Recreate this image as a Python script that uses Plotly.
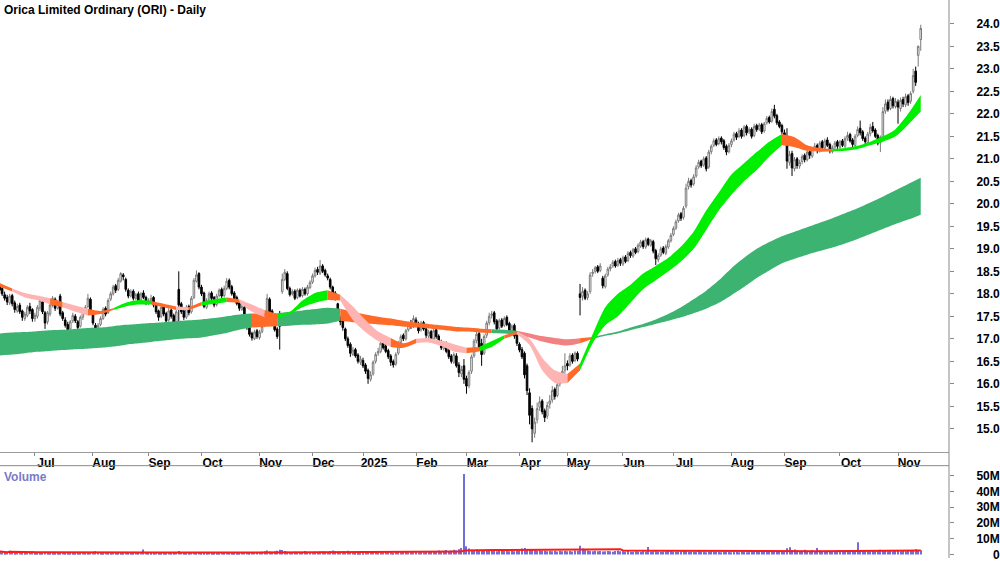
import plotly.graph_objects as go
import pandas as pd

TITLE = "Orica Limited Ordinary (ORI) - Daily"

# ---- x axis: trading-day index, month starts ----
month_tick_idx = [14, 37, 59, 80, 103, 124, 144, 165, 185, 206, 225, 247, 267, 290, 311, 333, 356]
month_tick_text = ["Jul", "Aug", "Sep", "Oct", "Nov", "Dec", "2025", "Feb", "Mar", "Apr", "May",
                   "Jun", "Jul", "Aug", "Sep", "Oct", "Nov"]

price_tick_vals = [15.0, 15.5, 16.0, 16.5, 17.0, 17.5, 18.0, 18.5, 19.0, 19.5, 20.0, 20.5,
                   21.0, 21.5, 22.0, 22.5, 23.0, 23.5, 24.0]
vol_tick_vals = [0, 10e6, 20e6, 30e6, 40e6, 50e6]
vol_tick_text = ["\u00a0\u00a0\u00a0\u00a0\u00a00", "10M", "20M", "30M", "40M", "50M"]

# ---- daily OHLC in cents (Jun-2024 .. Nov-2025) ----
open_cents = [
    1820, 1812, 1798, 1792, 1780, 1796, 1780, 1762, 1775, 1762, 1745, 1752, 1772, 1765,
    1745, 1750, 1768, 1782, 1758, 1738, 1755, 1774, 1788, 1768, 1795, 1758, 1742, 1732, 1722, 1740, 1750, 1738, 1728, 1748, 1760, 1772, 1788,
    1758, 1730, 1712, 1732, 1745, 1768, 1758, 1788, 1800, 1818, 1810, 1828, 1842, 1832, 1808, 1795, 1806, 1790, 1800, 1785, 1802, 1792,
    1780, 1784, 1792, 1776, 1762, 1750, 1772, 1756, 1742, 1764, 1752, 1738, 1810, 1778, 1762, 1748, 1772, 1760, 1792, 1828, 1845,
    1815, 1802, 1770, 1786, 1802, 1792, 1776, 1796, 1810, 1796, 1812, 1830, 1816, 1802, 1792, 1780, 1765, 1770, 1748, 1730, 1712, 1700, 1718,
    1703, 1716, 1730, 1750, 1788, 1762, 1740, 1722, 1740, 1805, 1832, 1845, 1812, 1800, 1806, 1792, 1808, 1796, 1810, 1800, 1814,
    1826, 1840, 1854, 1846, 1862, 1852, 1840, 1832, 1815, 1802, 1778, 1745, 1740, 1722, 1700, 1688, 1665, 1676, 1664, 1648,
    1652, 1642, 1630, 1610, 1622, 1650, 1668, 1672, 1692, 1684, 1674, 1662, 1650, 1644, 1668, 1692, 1708, 1700, 1720, 1735, 1728,
    1742, 1732, 1720, 1736, 1722, 1706, 1716, 1700, 1720, 1706, 1694, 1678, 1690, 1674, 1662, 1648, 1662, 1642, 1622, 1640,
    1612, 1596, 1628, 1662, 1696, 1712, 1690, 1668, 1708, 1736, 1752, 1758, 1740, 1724, 1742, 1730, 1748, 1734, 1716, 1730, 1708,
    1688, 1676, 1668, 1640, 1580, 1545, 1490, 1520, 1548, 1562, 1540, 1528, 1555, 1564, 1588, 1574, 1600, 1614, 1630,
    1645, 1642, 1664, 1652, 1668, 1800, 1795, 1808, 1792, 1805, 1845, 1850, 1860, 1852, 1835, 1816, 1842, 1856, 1862, 1872, 1864, 1876,
    1866, 1882, 1874, 1892, 1884, 1900, 1894, 1906, 1916, 1904, 1922, 1908, 1916, 1896, 1876, 1886, 1902, 1890, 1904, 1918,
    1932, 1946, 1962, 1978, 1970, 1995, 2038, 2052, 2044, 2062, 2082, 2095, 2086, 2102, 2082, 2116, 2130, 2142, 2134, 2146, 2140, 2128, 2116,
    2132, 2142, 2156, 2150, 2164, 2152, 2172, 2160, 2166, 2152, 2174, 2166, 2176, 2162, 2180, 2192, 2184, 2210, 2196, 2182, 2174,
    2158, 2148, 2092, 2112, 2078, 2100, 2084, 2094, 2108, 2098, 2116, 2106, 2124, 2130, 2118, 2138, 2124, 2142, 2132, 2116, 2126, 2138,
    2126, 2140, 2128, 2146, 2154, 2142, 2130, 2152, 2168, 2160, 2146, 2136, 2156, 2172, 2164, 2152, 2136, 2148, 2206, 2226, 2212, 2234, 2216,
    2226, 2212, 2232, 2220, 2240, 2228, 2250, 2295, 2330, 2365,
]
high_cents = [
    1825, 1818, 1805, 1798, 1800, 1800, 1785, 1778, 1780, 1765, 1760, 1775, 1780, 1768,
    1758, 1775, 1790, 1788, 1762, 1762, 1780, 1795, 1792, 1785, 1800, 1762, 1748, 1738, 1742, 1758, 1755, 1742, 1752, 1766, 1775, 1800, 1792,
    1760, 1735, 1735, 1750, 1770, 1772, 1790, 1805, 1820, 1822, 1835, 1848, 1846, 1836, 1812, 1810, 1810, 1802, 1805, 1804, 1808, 1796,
    1790, 1798, 1795, 1780, 1765, 1775, 1776, 1760, 1768, 1768, 1756, 1765, 1850, 1782, 1766, 1775, 1776, 1795, 1835, 1852, 1848,
    1820, 1805, 1790, 1805, 1806, 1795, 1800, 1812, 1814, 1818, 1835, 1834, 1820, 1806, 1796, 1784, 1778, 1775, 1752, 1735, 1716, 1720, 1722,
    1720, 1732, 1750, 1800, 1792, 1766, 1744, 1726, 1762, 1845, 1855, 1850, 1816, 1810, 1810, 1812, 1812, 1815, 1814, 1820, 1830,
    1845, 1858, 1860, 1875, 1866, 1856, 1845, 1836, 1818, 1806, 1780, 1750, 1745, 1725, 1705, 1692, 1682, 1680, 1668, 1662,
    1658, 1646, 1634, 1628, 1652, 1670, 1680, 1695, 1696, 1688, 1678, 1666, 1654, 1670, 1695, 1710, 1712, 1722, 1738, 1742, 1752,
    1748, 1738, 1740, 1740, 1726, 1720, 1720, 1728, 1724, 1710, 1698, 1694, 1694, 1678, 1666, 1670, 1668, 1648, 1640, 1655,
    1618, 1630, 1665, 1700, 1722, 1716, 1700, 1710, 1740, 1758, 1762, 1762, 1744, 1745, 1746, 1750, 1752, 1738, 1732, 1734, 1712,
    1692, 1682, 1672, 1645, 1590, 1552, 1525, 1558, 1572, 1566, 1545, 1560, 1575, 1595, 1592, 1605, 1622, 1640, 1668,
    1652, 1668, 1668, 1672, 1672, 1822, 1815, 1812, 1806, 1848, 1855, 1862, 1864, 1868, 1840, 1845, 1860, 1866, 1875, 1876, 1880, 1880,
    1885, 1886, 1895, 1896, 1902, 1904, 1912, 1920, 1920, 1925, 1925, 1922, 1920, 1900, 1890, 1905, 1906, 1910, 1922, 1935,
    1950, 1965, 1980, 1982, 1995, 2045, 2058, 2056, 2066, 2086, 2098, 2098, 2105, 2106, 2120, 2132, 2145, 2146, 2150, 2150, 2144, 2132, 2135,
    2145, 2160, 2160, 2168, 2168, 2175, 2176, 2170, 2170, 2178, 2178, 2180, 2180, 2182, 2195, 2196, 2212, 2220, 2200, 2186, 2178,
    2165, 2168, 2118, 2118, 2104, 2104, 2098, 2110, 2112, 2120, 2120, 2126, 2135, 2134, 2140, 2142, 2145, 2148, 2136, 2130, 2140, 2142,
    2142, 2144, 2150, 2160, 2158, 2146, 2155, 2172, 2185, 2164, 2150, 2160, 2178, 2182, 2168, 2156, 2152, 2215, 2232, 2232, 2240, 2238, 2235,
    2232, 2236, 2238, 2245, 2244, 2250, 2300, 2305, 2352, 2398,
]
low_cents = [
    1800, 1795, 1785, 1775, 1775, 1772, 1758, 1758, 1755, 1740, 1740, 1748, 1755, 1738,
    1738, 1745, 1762, 1755, 1722, 1732, 1750, 1770, 1762, 1765, 1750, 1740, 1725, 1712, 1718, 1735, 1735, 1720, 1725, 1742, 1755, 1768, 1755,
    1730, 1705, 1708, 1728, 1742, 1750, 1755, 1784, 1796, 1802, 1806, 1825, 1830, 1805, 1790, 1792, 1785, 1786, 1780, 1782, 1788, 1775,
    1775, 1780, 1770, 1755, 1740, 1746, 1750, 1732, 1738, 1745, 1728, 1735, 1730, 1755, 1742, 1744, 1752, 1756, 1788, 1825, 1810,
    1795, 1768, 1766, 1782, 1786, 1770, 1772, 1792, 1790, 1792, 1808, 1810, 1796, 1786, 1774, 1762, 1762, 1740, 1720, 1705, 1696, 1697, 1700,
    1698, 1712, 1726, 1746, 1755, 1734, 1716, 1700, 1676, 1800, 1828, 1808, 1794, 1796, 1786, 1788, 1792, 1792, 1796, 1796, 1810,
    1822, 1836, 1842, 1842, 1846, 1838, 1830, 1810, 1796, 1785, 1740, 1730, 1718, 1695, 1680, 1660, 1662, 1658, 1645, 1642,
    1635, 1622, 1600, 1605, 1618, 1645, 1662, 1668, 1676, 1668, 1655, 1640, 1636, 1640, 1664, 1688, 1695, 1696, 1716, 1722, 1724,
    1726, 1712, 1716, 1718, 1702, 1700, 1695, 1696, 1700, 1688, 1675, 1674, 1668, 1655, 1645, 1644, 1636, 1615, 1615, 1600,
    1578, 1590, 1622, 1658, 1690, 1675, 1640, 1664, 1702, 1730, 1745, 1732, 1716, 1720, 1724, 1726, 1728, 1712, 1712, 1700, 1684,
    1670, 1655, 1612, 1575, 1510, 1470, 1480, 1512, 1540, 1532, 1515, 1522, 1545, 1558, 1565, 1570, 1594, 1608, 1622,
    1630, 1638, 1645, 1648, 1650, 1752, 1785, 1786, 1786, 1800, 1838, 1845, 1846, 1848, 1812, 1812, 1838, 1850, 1858, 1858, 1860, 1862,
    1862, 1868, 1870, 1880, 1880, 1888, 1890, 1902, 1900, 1900, 1906, 1905, 1890, 1864, 1870, 1882, 1888, 1886, 1900, 1914,
    1928, 1942, 1958, 1962, 1965, 1990, 2032, 2036, 2040, 2058, 2078, 2080, 2082, 2072, 2078, 2110, 2126, 2128, 2130, 2132, 2120, 2108, 2112,
    2126, 2138, 2142, 2146, 2145, 2148, 2152, 2155, 2145, 2148, 2160, 2162, 2155, 2158, 2176, 2178, 2180, 2190, 2175, 2168, 2155,
    2138, 2078, 2085, 2062, 2072, 2078, 2078, 2088, 2092, 2094, 2100, 2102, 2118, 2112, 2114, 2120, 2120, 2126, 2112, 2112, 2122, 2122,
    2120, 2126, 2124, 2140, 2136, 2126, 2126, 2148, 2152, 2140, 2132, 2132, 2150, 2158, 2146, 2130, 2115, 2140, 2200, 2205, 2208, 2212, 2212,
    2178, 2205, 2215, 2215, 2218, 2222, 2245, 2262, 2305, 2340,
]
close_cents = [
    1808, 1800, 1790, 1782, 1795, 1778, 1765, 1772, 1760, 1748, 1755, 1770, 1762, 1745,
    1752, 1770, 1785, 1760, 1735, 1758, 1775, 1790, 1768, 1780, 1755, 1745, 1730, 1720, 1738, 1752, 1740, 1725, 1748, 1762, 1770, 1790, 1760,
    1735, 1712, 1730, 1745, 1765, 1755, 1785, 1800, 1815, 1808, 1830, 1845, 1838, 1810, 1795, 1805, 1790, 1798, 1785, 1800, 1792, 1780,
    1785, 1790, 1775, 1760, 1748, 1770, 1755, 1740, 1762, 1750, 1735, 1760, 1775, 1760, 1748, 1770, 1758, 1790, 1830, 1842, 1815,
    1800, 1772, 1785, 1800, 1790, 1775, 1795, 1808, 1795, 1812, 1828, 1815, 1800, 1790, 1778, 1768, 1772, 1745, 1725, 1710, 1702, 1715, 1705,
    1715, 1728, 1745, 1790, 1760, 1738, 1720, 1705, 1728, 1832, 1848, 1812, 1798, 1805, 1790, 1808, 1795, 1810, 1800, 1815, 1825,
    1840, 1852, 1848, 1862, 1850, 1842, 1835, 1815, 1800, 1790, 1745, 1738, 1725, 1700, 1685, 1668, 1675, 1662, 1650, 1655,
    1640, 1628, 1612, 1620, 1648, 1665, 1672, 1690, 1680, 1672, 1660, 1648, 1642, 1665, 1690, 1705, 1700, 1718, 1732, 1728, 1745,
    1730, 1718, 1735, 1722, 1708, 1715, 1700, 1718, 1705, 1692, 1680, 1688, 1672, 1660, 1650, 1665, 1640, 1625, 1632, 1610,
    1595, 1625, 1660, 1695, 1710, 1680, 1665, 1705, 1735, 1750, 1755, 1738, 1722, 1740, 1728, 1745, 1732, 1718, 1728, 1706, 1690,
    1675, 1660, 1620, 1585, 1530, 1500, 1515, 1545, 1560, 1538, 1525, 1552, 1562, 1585, 1572, 1598, 1612, 1628, 1640,
    1640, 1662, 1650, 1668, 1655, 1792, 1805, 1790, 1800, 1842, 1848, 1858, 1850, 1862, 1818, 1840, 1855, 1860, 1870, 1862, 1874, 1868,
    1880, 1872, 1890, 1885, 1898, 1892, 1908, 1915, 1905, 1920, 1910, 1918, 1895, 1878, 1885, 1900, 1892, 1905, 1918, 1930,
    1945, 1960, 1975, 1968, 1990, 2035, 2050, 2042, 2060, 2080, 2092, 2085, 2100, 2078, 2115, 2128, 2140, 2132, 2145, 2138, 2125, 2115, 2130,
    2140, 2155, 2148, 2162, 2150, 2170, 2158, 2165, 2150, 2172, 2165, 2175, 2160, 2178, 2190, 2182, 2205, 2195, 2180, 2172, 2160,
    2145, 2095, 2110, 2080, 2098, 2085, 2092, 2105, 2098, 2115, 2108, 2122, 2128, 2118, 2135, 2125, 2140, 2130, 2118, 2125, 2135, 2128,
    2138, 2130, 2145, 2152, 2140, 2132, 2150, 2165, 2158, 2145, 2138, 2155, 2170, 2162, 2150, 2135, 2148, 2205, 2222, 2210, 2232, 2218, 2228,
    2215, 2230, 2222, 2238, 2225, 2245, 2285, 2270, 2350, 2390,
]

# ---- daily volume, millions of shares ----
volume_m = [
    1.9, 1.4, 1.2, 1.5, 2.4, 1.3, 1.1, 1.4, 1.6, 1.2, 1.1, 1.5, 1.3, 2.0,
    1.0, 1.2, 0.9, 1.1, 1.3, 1.0, 0.8, 1.1, 1.2, 0.9, 1.0, 1.3, 1.1, 0.9, 1.0, 1.2, 1.1, 0.8, 1.0, 1.3, 1.2, 1.0, 1.4,
    1.3, 2.1, 1.6, 1.2, 1.1, 1.3, 1.0, 1.2, 1.4, 1.1, 0.9, 1.0, 1.2, 1.3, 1.1, 1.0, 1.2, 1.4, 1.1, 1.3, 3.2, 1.5,
    1.2, 1.0, 1.1, 1.3, 0.9, 1.0, 1.2, 1.1, 1.4, 1.0, 1.2, 1.5, 2.2, 1.3, 1.1, 1.0, 1.2, 1.6, 1.4, 1.2, 1.3,
    1.1, 1.0, 1.2, 1.3, 1.0, 0.9, 1.1, 1.2, 1.4, 1.0, 1.3, 1.1, 1.0, 1.2, 0.9, 1.1, 1.3, 1.5, 1.4, 1.2, 1.6, 1.3, 1.4,
    1.5, 1.8, 2.1, 2.6, 1.9, 1.7, 2.0, 2.4, 3.1, 2.8, 2.2, 1.8, 1.6, 1.5, 1.7, 1.4, 1.6, 1.3, 2.3, 1.5, 1.4,
    1.6, 1.8, 1.5, 1.9, 2.0, 1.7, 1.6, 2.2, 2.5, 2.1, 1.9, 1.8, 2.0, 1.7, 2.4, 1.6, 1.3, 0.9, 1.0, 1.1,
    1.2, 1.4, 1.6, 1.9, 1.5, 1.7, 1.4, 1.6, 1.3, 1.5, 1.8, 1.4, 1.2, 1.6, 1.7, 1.5, 1.9, 1.6, 1.4, 1.8, 1.5,
    1.6, 1.4, 1.7, 1.5, 1.8, 1.6, 2.0, 1.9, 2.3, 2.6, 2.1, 2.4, 2.8, 2.2, 2.5, 3.0, 2.6, 3.4, 4.2, 51.0,
    5.2, 3.8, 3.1, 2.9, 3.3, 2.6, 2.8, 2.4, 2.7, 2.2, 2.5, 2.3, 2.1, 2.6, 2.4, 3.5, 2.2, 2.0, 2.3, 2.1, 2.4,
    2.6, 3.8, 4.2, 3.5, 3.0, 3.3, 2.8, 2.5, 2.7, 2.2, 2.4, 2.1, 2.3, 2.0, 2.2, 1.9, 2.4, 2.1, 2.3,
    2.0, 2.2, 1.9, 2.6, 2.4, 5.6, 3.8, 2.9, 2.5, 2.3, 2.1, 2.4, 2.0, 2.2, 1.9, 2.1, 2.3, 2.0, 1.8, 2.2, 2.5, 2.1,
    2.0, 1.9, 2.2, 1.8, 1.7, 2.1, 1.9, 1.6, 2.0, 1.8, 4.8, 1.7, 1.9, 2.1, 1.8, 1.6, 1.7, 1.9, 2.2, 2.6,
    1.8, 1.6, 1.9, 2.0, 2.3, 2.1, 1.8, 1.7, 1.6, 1.9, 2.2, 1.8, 1.7, 1.5, 1.6, 1.9, 1.7, 1.8, 1.6, 1.5, 1.7, 1.9, 1.6,
    1.5, 1.7, 1.6, 1.4, 1.8, 1.6, 1.5, 1.7, 1.9, 1.6, 1.8, 2.0, 1.7, 1.9, 2.2, 2.4, 2.1, 1.8, 2.6, 2.0, 1.9,
    2.3, 3.9, 4.6, 2.8, 3.2, 2.5, 2.2, 2.6, 3.0, 2.4, 2.1, 2.7, 2.3, 4.1, 2.5, 2.0, 2.2, 2.4, 2.1, 1.9, 2.3, 2.8,
    2.6, 2.2, 2.4, 2.0, 2.3, 2.1, 2.5, 7.8, 2.6, 2.2, 2.0, 1.9, 2.1, 2.3, 2.0, 2.4, 3.1, 2.5, 2.2, 2.0, 2.3, 2.1, 2.4,
    2.2, 2.0, 2.4, 2.1, 2.6, 2.8, 2.3, 3.4, 2.9, 2.7,
]

# ---- trend bands (every 5 trading days) ----
band_idx = list(range(0, 366, 5))
long_top = [
    17.12, 17.14, 17.15, 17.17, 17.19, 17.20, 17.22, 17.24, 17.25, 17.28,
    17.31, 17.33, 17.35, 17.37, 17.39, 17.41, 17.43, 17.46, 17.50, 17.54,
    17.56, 17.57, 17.57, 17.60, 17.63, 17.66, 17.69, 17.67, 17.60, 17.54,
    17.49, 17.45, 17.40, 17.36, 17.33, 17.30, 17.27, 17.25, 17.23, 17.21,
    17.20, 17.18, 17.12, 17.06, 17.02, 16.99, 17.01, 17.04, 17.10, 17.16,
    17.25, 17.33, 17.43, 17.55, 17.70, 17.88, 18.07, 18.30, 18.57, 18.80,
    19.00, 19.15, 19.28, 19.38, 19.48, 19.58, 19.68, 19.79, 19.90, 20.03,
    20.16, 20.30, 20.44, 20.58,
]
long_bot = [
    16.63, 16.65, 16.68, 16.71, 16.73, 16.75, 16.77, 16.78, 16.80, 16.83,
    16.87, 16.90, 16.93, 16.96, 16.99, 17.01, 17.03, 17.08, 17.13, 17.20,
    17.25, 17.27, 17.28, 17.29, 17.31, 17.32, 17.34, 17.40, 17.37, 17.34,
    17.32, 17.30, 17.27, 17.25, 17.23, 17.20, 17.17, 17.16, 17.14, 17.13,
    17.12, 17.10, 17.03, 16.94, 16.88, 16.85, 16.90, 17.00, 17.07, 17.12,
    17.19, 17.26, 17.33, 17.40, 17.48, 17.57, 17.67, 17.80, 17.97, 18.15,
    18.35, 18.52, 18.68, 18.78, 18.87, 18.95, 19.03, 19.12, 19.22, 19.33,
    19.44, 19.55, 19.65, 19.76,
]
short_top = [
    18.24, 18.12, 18.02, 17.96, 17.90, 17.82, 17.74, 17.67, 17.62, 17.68,
    17.80, 17.86, 17.84, 17.78, 17.72, 17.70, 17.82, 17.88, 17.92, 17.88,
    17.76, 17.64, 17.55, 17.60, 17.85, 18.02, 18.08, 17.98, 17.72, 17.42,
    17.16, 17.02, 16.90, 17.00, 17.02, 16.96, 16.88, 16.80, 16.82, 16.95,
    17.08, 17.16, 17.00, 16.58, 16.30, 16.22, 16.45, 17.10, 17.70, 18.00,
    18.20, 18.45, 18.62, 18.80, 19.05, 19.38, 19.85, 20.25, 20.65, 20.90,
    21.15, 21.38, 21.55, 21.48, 21.30, 21.24, 21.22, 21.24, 21.29, 21.38,
    21.50, 21.66, 22.00, 22.42,
]
short_bot = [
    18.16, 18.05, 17.92, 17.86, 17.76, 17.70, 17.60, 17.52, 17.55, 17.64,
    17.72, 17.76, 17.76, 17.70, 17.64, 17.64, 17.74, 17.78, 17.82, 17.80,
    17.60, 17.48, 17.45, 17.55, 17.70, 17.80, 17.86, 17.85, 17.42, 17.15,
    16.95, 16.82, 16.80, 16.90, 16.92, 16.84, 16.72, 16.68, 16.72, 16.82,
    17.00, 17.10, 16.86, 16.30, 16.02, 16.02, 16.30, 16.90, 17.30, 17.50,
    17.80, 18.10, 18.30, 18.50, 18.72, 19.00, 19.42, 19.85, 20.20, 20.50,
    20.75, 21.05, 21.30, 21.26, 21.18, 21.16, 21.17, 21.18, 21.22, 21.30,
    21.38, 21.50, 21.76, 22.05,
]
# colour runs: (start index, end index, colour key)
long_runs = [(0, 100, "g"), (100, 110, "o"), (110, 135, "g"), (135, 195, "o"), (195, 205, "g"),
             (205, 230, "p"), (230, 235, "o"), (235, 365, "g")]
short_runs = [(0, 5, "o"), (5, 20, "p"), (20, 25, "o"), (25, 35, "p"), (35, 45, "o"), (45, 60, "g"),
              (60, 70, "o"), (70, 75, "p"), (75, 80, "o"), (80, 90, "g"), (90, 95, "o"), (95, 105, "p"),
              (105, 110, "o"), (110, 130, "g"), (130, 135, "o"), (135, 155, "p"), (155, 165, "o"),
              (165, 185, "p"), (185, 190, "o"), (190, 200, "g"), (200, 205, "o"), (205, 225, "p"),
              (225, 230, "o"), (230, 310, "g"), (310, 330, "o"), (330, 365, "g")]

LONG_COL = {"g": "#3cb371", "o": "#ff6a28", "p": "#f28282"}
SHORT_COL = {"g": "#00ee00", "o": "#ff6a28", "p": "#ffb4b4"}

FONT = "Liberation Sans Narrow, Arial Narrow, Liberation Sans, Arial, sans-serif"

n = min(len(open_cents), len(high_cents), len(low_cents), len(close_cents))
idx = list(range(n))
o = [v / 100 for v in open_cents[:n]]
c = [v / 100 for v in close_cents[:n]]
h = [max(a, b, v / 100) for a, b, v in zip(o, c, high_cents[:n])]
l = [min(a, b, v / 100) for a, b, v in zip(o, c, low_cents[:n])]

nv = len(volume_m)
vol = [v * 1e6 for v in volume_m]
vol_ma = pd.Series(vol).rolling(63, min_periods=1).mean().tolist()

fig = go.Figure()


def add_band(top, bot, runs, colours):
    for a, b, key in runs:
        ks = [k for k, i in enumerate(band_idx) if a <= i <= b]
        xs = [band_idx[k] for k in ks]
        col = colours[key]
        fig.add_trace(go.Scatter(x=xs, y=[bot[k] for k in ks], mode="lines",
                                 line=dict(width=0, color=col, shape="spline", smoothing=0.7),
                                 hoverinfo="skip", showlegend=False, xaxis="x", yaxis="y"))
        fig.add_trace(go.Scatter(x=xs, y=[top[k] for k in ks], mode="lines",
                                 line=dict(width=0, color=col, shape="spline", smoothing=0.7),
                                 fill="tonexty", fillcolor=col,
                                 hoverinfo="skip", showlegend=False, xaxis="x", yaxis="y"))


add_band(long_top, long_bot, long_runs, LONG_COL)
add_band(short_top, short_bot, short_runs, SHORT_COL)

fig.add_trace(go.Candlestick(
    x=idx, open=o, high=h, low=l, close=c,
    increasing=dict(line=dict(color="#7a7a7a", width=1), fillcolor="white"),
    decreasing=dict(line=dict(color="black", width=1), fillcolor="black"),
    whiskerwidth=0, hoverinfo="skip", showlegend=False, xaxis="x", yaxis="y"))

fig.add_trace(go.Bar(x=list(range(nv)), y=vol, width=0.4,
                     marker=dict(color="#6f6fd8", line=dict(width=0)),
                     hoverinfo="skip", showlegend=False, xaxis="x2", yaxis="y2"))
fig.add_trace(go.Scatter(x=list(range(nv)), y=vol_ma, mode="lines",
                         line=dict(color="#ff1a1a", width=2),
                         hoverinfo="skip", showlegend=False, xaxis="x2", yaxis="y2"))

tickfont = dict(family=FONT, size=12, color="black", weight="bold")
price_dom_bottom = 1 - 455 / 562
vol_dom_top = 1 - 469 / 562

fig.update_layout(
    width=1000, height=562,
    margin=dict(l=0, r=49, t=0, b=0),
    paper_bgcolor="white", plot_bgcolor="white",
    showlegend=False, hovermode=False, boxgap=0.1,
    xaxis=dict(domain=[0, 1], anchor="y", range=[0.16, 376.2],
               tickmode="array", tickvals=month_tick_idx, ticktext=month_tick_text,
               ticks="outside", ticklen=3, tickcolor="#888888", tickwidth=1,
               showline=True, linecolor="#9a9a9a", linewidth=1,
               showgrid=False, zeroline=False, rangeslider=dict(visible=False),
               tickfont=tickfont, ticklabelshift=11, ticklabelstandoff=-3, fixedrange=True),
    xaxis2=dict(domain=[0, 1], anchor="y2", matches="x", showticklabels=False,
                ticks="", showline=False, showgrid=False, zeroline=False),
    yaxis=dict(domain=[price_dom_bottom, 1], range=[14.49, 24.53], side="right",
               tickmode="array", tickvals=price_tick_vals,
               ticktext=["%.1f" % v for v in price_tick_vals],
               ticks="outside", ticklen=4, tickcolor="#888888",
               showline=False, showgrid=False, zeroline=False,
               tickfont=tickfont, ticklabelstandoff=20),
    yaxis2=dict(domain=[0, vol_dom_top], range=[-2.2e6, 56.3e6], side="right",
                tickmode="array", tickvals=vol_tick_vals, ticktext=vol_tick_text,
                ticks="outside", ticklen=4, tickcolor="#888888",
                showline=False, showgrid=False, zeroline=False,
                tickfont=tickfont, ticklabelstandoff=20, ticklabeloverflow="allow"),
    shapes=[
        dict(type="line", xref="paper", yref="paper", x0=1, x1=1, y0=0, y1=1,
             line=dict(color="#8a8a8a", width=1)),
        dict(type="line", xref="paper", yref="paper", x0=0, x1=1, y0=vol_dom_top, y1=vol_dom_top,
             line=dict(color="#8a8a8a", width=1)),
    ],
    annotations=[
        dict(text=TITLE, xref="paper", yref="paper", x=0, y=1, xanchor="left", yanchor="top",
             xshift=2, yshift=-1, showarrow=False,
             font=dict(family=FONT, size=12, color="black", weight="bold")),
        dict(text="Volume", xref="paper", yref="paper", x=0, y=vol_dom_top, xanchor="left",
             yanchor="top", xshift=2, yshift=-2, showarrow=False,
             font=dict(family=FONT, size=12, color="#7a7ac8", weight="bold")),
    ],
)

fig.write_html("out.html")
